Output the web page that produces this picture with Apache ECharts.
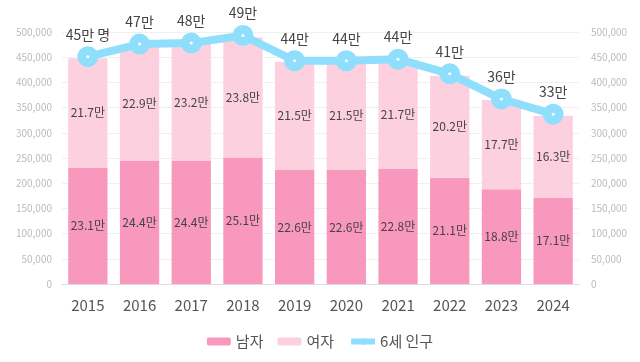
<!DOCTYPE html>
<html><head><meta charset="utf-8">
<script src="https://cdn.jsdelivr.net/npm/echarts@6/dist/echarts.min.js"></script>
<style>html,body{margin:0;padding:0;background:#fff}#c{width:640px;height:362px}</style>
</head><body><div id="c"></div>
<script>
const years = ['2015','2016','2017','2018','2019','2020','2021','2022','2023','2024'];
const male = [231000,244000,244000,251000,226000,226000,228000,211000,188000,171000];
const female = [217000,229000,232000,238000,215000,215000,217000,202000,177000,163000];
const total6 = [451000,476000,478000,493000,443000,443000,446000,417000,367000,337000];
const lineLabels = ['45만 명','47만','48만','49만','44만','44만','44만','41만','36만','33만'];

const FONT = '"Noto Sans CJK KR", "Noto Sans", sans-serif';
const chart = echarts.init(document.getElementById('c'));
const man = v => (v/10000).toFixed(1) + '만';
chart.setOption({
  animation: false,
  textStyle: {fontFamily: FONT},
  grid: {left: 62, right: 61, top: 32, bottom: 78},
  legend: {
    bottom: 8, left: 'center', itemWidth: 24, itemHeight: 8, itemGap: 14,
    textStyle: {fontSize: 15, color: '#555', fontFamily: FONT},
    data: ['남자','여자',
      {name: '6세 인구', itemStyle: {color: '#8fdffc', borderColor: '#8fdffc', borderWidth: 0},
       lineStyle: {color: '#8fdffc', width: 6}}]
  },
  xAxis: {
    type: 'category', data: years,
    axisTick: {show: false},
    axisLine: {lineStyle: {color: '#ddd'}},
    axisLabel: {fontSize: 15, color: '#555', margin: 14}
  },
  yAxis: [
    {type: 'value', min: 0, max: 500000, interval: 50000,
     axisLabel: {fontSize: 10, color: '#bbb', formatter: v => v.toLocaleString('en-US'), margin: 10},
     splitLine: {lineStyle: {color: '#f0f0f0'}}, axisLine: {show: false}, axisTick: {show: false}},
    {type: 'value', min: 0, max: 500000, interval: 50000,
     axisLabel: {fontSize: 10, color: '#bbb', formatter: v => v.toLocaleString('en-US'), margin: 12},
     splitLine: {show: false}, axisLine: {show: false}, axisTick: {show: false}}
  ],
  series: [
    {name: '남자', type: 'bar', stack: 'a', data: male, barCategoryGap: '24%',
     itemStyle: {color: '#f898bc'},
     label: {show: true, position: 'inside', formatter: p => man(p.value), fontSize: 12, color: '#444'}},
    {name: '여자', type: 'bar', stack: 'a', data: female,
     itemStyle: {color: '#fdd0e0'},
     label: {show: true, position: 'inside', formatter: p => man(p.value), fontSize: 12, color: '#444'}},
    {name: '6세 인구', type: 'line', data: total6, z: 5,
     symbol: 'circle', symbolSize: 12,
     lineStyle: {color: '#8fdffc', width: 8},
     itemStyle: {color: '#fff', borderColor: '#8fdffc', borderWidth: 9},
     label: {show: true, position: 'top', distance: 5, fontSize: 14, color: '#444',
       formatter: p => lineLabels[p.dataIndex]}}
  ]
});
</script></body></html>
